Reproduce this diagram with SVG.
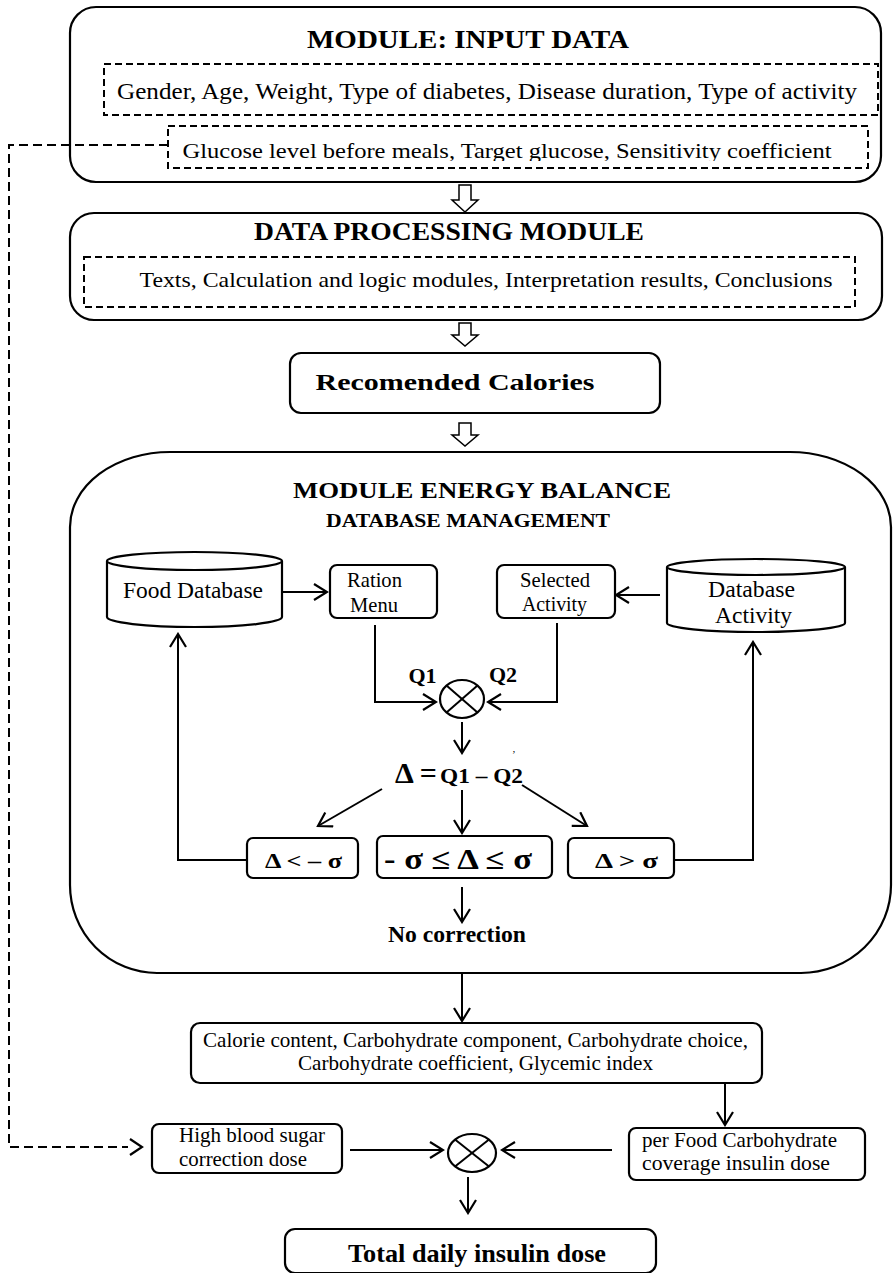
<svg xmlns="http://www.w3.org/2000/svg" width="893" height="1273" viewBox="0 0 893 1273">
<defs>
<style>
.box{fill:#fff;stroke:#000;stroke-width:2.2}
.dbox{fill:none;stroke:#000;stroke-width:2;stroke-dasharray:7,4}
.ln{fill:none;stroke:#000;stroke-width:2}
.arr{fill:none;stroke:#000;stroke-width:2;marker-end:url(#ah)}
.t{font-family:"Liberation Serif","Times New Roman",serif;fill:#000}
.b{font-weight:bold}
.hol{fill:#fff;stroke:#000;stroke-width:1.5}
</style>
<marker id="ah" viewBox="0 0 16 18" refX="14" refY="9" markerWidth="16" markerHeight="18" markerUnits="userSpaceOnUse" orient="auto">
<path d="M1,1 L14,9 L1,17" fill="none" stroke="#000" stroke-width="2.2"/>
</marker>
<clipPath id="clipG"><rect x="168" y="126" width="700" height="35"/></clipPath>
</defs>
<rect width="893" height="1273" fill="#fff"/>

<g id="input-module">
<rect class="box" x="70" y="7" width="811" height="175" rx="26"/>
<text class="t b" x="468" y="48" font-size="25" text-anchor="middle" textLength="322" lengthAdjust="spacingAndGlyphs">MODULE: INPUT   DATA</text>
<rect class="dbox" x="104" y="64" width="774" height="51"/>
<text class="t" x="487" y="99" font-size="22.5" text-anchor="middle" textLength="740" lengthAdjust="spacingAndGlyphs">Gender, Age, Weight, Type of diabetes, Disease duration, Type of activity</text>
<rect class="dbox" x="168" y="126" width="700" height="42"/>
<text class="t" x="507" y="158" font-size="22" text-anchor="middle" textLength="649" lengthAdjust="spacingAndGlyphs" clip-path="url(#clipG)">Glucose level before meals, Target glucose, Sensitivity  coefficient</text>
</g>

<g id="processing-module">
<rect class="box" x="70" y="213" width="812" height="107" rx="24"/>
<text class="t b" x="449" y="240" font-size="25" text-anchor="middle" textLength="390" lengthAdjust="spacingAndGlyphs">DATA  PROCESSING  MODULE</text>
<rect class="dbox" x="84" y="257" width="771" height="50"/>
<text class="t" x="486" y="287" font-size="22" text-anchor="middle" textLength="693" lengthAdjust="spacingAndGlyphs">Texts, Calculation and logic modules, Interpretation results, Conclusions</text>
</g>

<g id="recommended-calories">
<rect class="box" x="290" y="353" width="370" height="60" rx="11"/>
<text class="t b" x="455" y="390" font-size="23" text-anchor="middle" textLength="279" lengthAdjust="spacingAndGlyphs">Recomended  Calories</text>
</g>

<g id="energy-balance">
<path class="box" d="M170,452 H790 A101,75 0 0 1 891,527 V885 A90,88 0 0 1 801,973 H157 A87,88 0 0 1 70,885 V527 A100,75 0 0 1 170,452 Z"/>
<text class="t b" x="482" y="498" font-size="24" text-anchor="middle" textLength="378" lengthAdjust="spacingAndGlyphs">MODULE  ENERGY BALANCE</text>
<text class="t b" x="468" y="527" font-size="18.5" text-anchor="middle" textLength="284" lengthAdjust="spacingAndGlyphs">DATABASE  MANAGEMENT</text>
</g>

<g id="food-database">
<path class="box" d="M107,561 V617 A87.5,10 0 0 0 282,617 V561"/>
<ellipse class="box" cx="194.5" cy="561" rx="87.5" ry="9"/>
<text class="t" x="193" y="598" font-size="23.5" text-anchor="middle" textLength="140" lengthAdjust="spacingAndGlyphs">Food Database</text>
</g>

<g id="ration-menu">
<rect class="box" x="330" y="565" width="107" height="53" rx="7"/>
<text class="t" x="374.5" y="587" font-size="21" text-anchor="middle" textLength="55" lengthAdjust="spacingAndGlyphs">Ration</text>
<text class="t" x="374" y="612" font-size="21" text-anchor="middle" textLength="48" lengthAdjust="spacingAndGlyphs">Menu</text>
</g>

<g id="selected-activity">
<rect class="box" x="497" y="565" width="118" height="53" rx="7"/>
<text class="t" x="555" y="587" font-size="21" text-anchor="middle" textLength="70" lengthAdjust="spacingAndGlyphs">Selected</text>
<text class="t" x="554.5" y="611" font-size="21" text-anchor="middle" textLength="65" lengthAdjust="spacingAndGlyphs">Activity</text>
</g>

<g id="database-activity">
<path class="box" d="M667,567 V623 A89,9 0 0 0 845,623 V567"/>
<ellipse class="box" cx="756" cy="567" rx="89" ry="8"/>
<text class="t" x="751.5" y="597" font-size="23.5" text-anchor="middle" textLength="87" lengthAdjust="spacingAndGlyphs">Database</text>
<text class="t" x="753.5" y="623" font-size="23.5" text-anchor="middle" textLength="77" lengthAdjust="spacingAndGlyphs">Activity</text>
</g>

<g id="sum-node-1">
<ellipse class="box" cx="462" cy="699" rx="22" ry="19"/>
<line class="ln" x1="446.5" y1="685.5" x2="477.5" y2="712.5"/>
<line class="ln" x1="477.5" y1="685.5" x2="446.5" y2="712.5"/>
<text class="t b" x="422.5" y="683" font-size="22" text-anchor="middle">Q1</text>
<text class="t b" x="503" y="682" font-size="22" text-anchor="middle">Q2</text>
</g>

<g id="delta-formula">
<text class="t b" x="395" y="783" font-size="30">Δ =</text>
<text class="t b" x="440" y="783" font-size="22" textLength="83" lengthAdjust="spacingAndGlyphs">Q1 – Q2</text>
<text class="t" x="512" y="758" font-size="11">’</text>
</g>

<g id="delta-less">
<rect class="box" x="247" y="838" width="111" height="40" rx="6"/>
<text class="t b" x="303.5" y="868" font-size="22" text-anchor="middle" textLength="77" lengthAdjust="spacingAndGlyphs">Δ &lt;  – σ</text>
</g>

<g id="delta-within">
<rect class="box" x="377" y="836" width="175" height="42" rx="6"/>
<text class="t b" x="458" y="869" font-size="29" text-anchor="middle" textLength="148" lengthAdjust="spacingAndGlyphs">- σ  ≤ Δ ≤  σ</text>
</g>

<g id="delta-greater">
<rect class="box" x="568" y="838" width="106" height="40" rx="6"/>
<text class="t b" x="626.5" y="868" font-size="22" text-anchor="middle" textLength="63" lengthAdjust="spacingAndGlyphs">Δ  &gt;  σ</text>
</g>

<g id="no-correction">
<text class="t b" x="457" y="942" font-size="23.5" text-anchor="middle" textLength="138" lengthAdjust="spacingAndGlyphs">No correction</text>
</g>

<g id="calorie-content">
<rect class="box" x="191" y="1023" width="571" height="60" rx="9"/>
<text class="t" x="475.5" y="1047" font-size="21" text-anchor="middle" textLength="545" lengthAdjust="spacingAndGlyphs">Calorie content, Carbohydrate component, Carbohydrate choice,</text>
<text class="t" x="475.5" y="1070" font-size="21" text-anchor="middle" textLength="355" lengthAdjust="spacingAndGlyphs">Carbohydrate coefficient, Glycemic index</text>
</g>

<g id="correction-dose">
<rect class="box" x="152" y="1124" width="190" height="49" rx="7"/>
<text class="t" x="179" y="1142" font-size="21" textLength="146" lengthAdjust="spacingAndGlyphs">High blood sugar</text>
<text class="t" x="179" y="1166" font-size="21" textLength="128" lengthAdjust="spacingAndGlyphs">correction dose</text>
</g>

<g id="sum-node-2">
<ellipse class="box" cx="472" cy="1153" rx="24" ry="19"/>
<line class="ln" x1="455" y1="1139.5" x2="489" y2="1166.5"/>
<line class="ln" x1="489" y1="1139.5" x2="455" y2="1166.5"/>
</g>

<g id="carb-coverage-dose">
<rect class="box" x="629" y="1128" width="236" height="52" rx="7"/>
<text class="t" x="642" y="1147" font-size="21" textLength="195" lengthAdjust="spacingAndGlyphs">per Food Carbohydrate</text>
<text class="t" x="642" y="1170" font-size="21" textLength="188" lengthAdjust="spacingAndGlyphs">coverage  insulin dose</text>
</g>

<g id="total-dose">
<rect class="box" x="285" y="1229" width="371" height="44" rx="10"/>
<text class="t b" x="477" y="1262" font-size="25" text-anchor="middle" textLength="258" lengthAdjust="spacingAndGlyphs">Total daily insulin dose</text>
</g>

<g id="connectors">
<path class="ln" d="M168,145 H9 V1147 H128" stroke-dasharray="9,5"/>
<path d="M130,1139 L142,1147 L130,1155" fill="none" stroke="#000" stroke-width="2.2"/>
<path class="hol" d="M459,185 H471 V200 H478 L465,212 L452,200 H459 Z"/>
<path class="hol" d="M459,323 H471 V335 H478 L465,346 L452,335 H459 Z"/>
<path class="hol" d="M459,423 H471 V435 H478 L465,446 L452,435 H459 Z"/>
<line class="arr" x1="282" y1="592" x2="327" y2="592"/>
<line class="arr" x1="660" y1="595" x2="616" y2="595"/>
<path class="arr" d="M375,625 V702 H436"/>
<path class="arr" d="M557,623 V702 H488"/>
<line class="arr" x1="462" y1="722" x2="462" y2="753"/>
<line class="arr" x1="382" y1="789" x2="318" y2="826"/>
<line class="arr" x1="462" y1="790" x2="462" y2="833"/>
<line class="arr" x1="522" y1="785" x2="587" y2="826"/>
<path class="arr" d="M246,860 H178 V634"/>
<path class="arr" d="M675,860 H753 V642"/>
<line class="arr" x1="462" y1="887" x2="462" y2="922"/>
<line class="arr" x1="462" y1="973" x2="462" y2="1021"/>
<line class="arr" x1="725" y1="1084" x2="725" y2="1125"/>
<line class="arr" x1="350" y1="1150" x2="443" y2="1150"/>
<line class="arr" x1="612" y1="1150" x2="502" y2="1150"/>
<line class="arr" x1="468" y1="1177" x2="468" y2="1213"/>
</g>
</svg>
